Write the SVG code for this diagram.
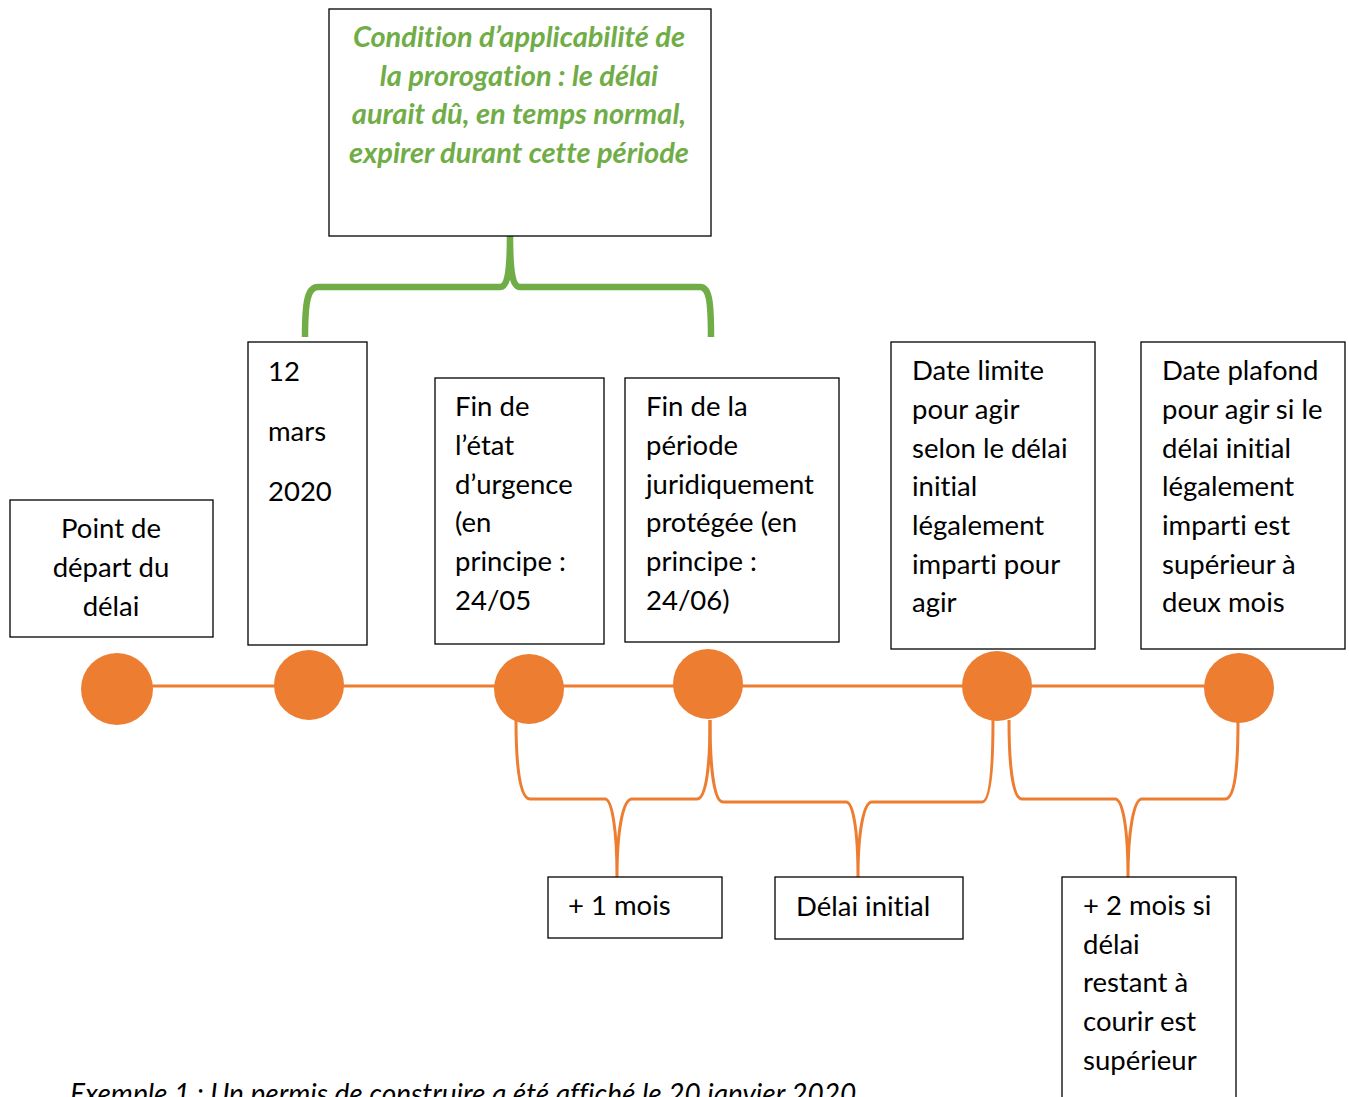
<svg xmlns="http://www.w3.org/2000/svg" width="1349" height="1097" viewBox="0 0 1349 1097">
<style>
text{font-variant-ligatures:none}
.box{fill:#fff;stroke:#000;stroke-width:1.3}
.t{font-family:Lato,"Open Sans","Liberation Sans",sans-serif;font-size:27.5px;fill:#000}
.g{font-family:Lato,"Open Sans","Liberation Sans",sans-serif;font-size:29px;font-weight:bold;font-style:italic;fill:#70AD47}
.dot{fill:#ED7D31}
.ob{fill:none;stroke:#ED7D31;stroke-width:3}
.gb{fill:none;stroke:#70AD47;stroke-width:6.5}
</style>
<rect width="1349" height="1097" fill="#fff"/>
<g id="connectors">
<line class="ob" x1="117" y1="686" x2="1240" y2="686"/>
<path class="ob" d="M516,720 C516,760 519,799 530,799 L605,799 C612,799 617,830 617,877 M710,720 C710,760 707,799 697,799 L632,799 C623,799 617,830 617,877"/>
<path class="ob" d="M710,720 C710,760 713,802 723,802 L846,802 C853,802 858,830 858,877 M993,720 C993,760 991,802 982,802 L872,802 C864,802 858,830 858,877"/>
<path class="ob" d="M1009,720 C1009,760 1012,799 1022,799 L1115,799 C1123,799 1128,830 1128,877 M1238,720 C1238,760 1236,799 1225,799 L1142,799 C1134,799 1128,830 1128,877"/>
<path class="gb" d="M510,236 C510,270 508,287 500,287 L318,287 C308,287 305,300 305,337 M510,236 C510,270 512,287 520,287 L700,287 C709,287 711,300 711,337"/>
</g>
<g id="condition">
<rect class="box" x="329" y="9" width="382" height="227"/>
<text class="g" text-anchor="middle"><tspan x="519" y="47">Condition d’applicabilité de</tspan><tspan x="519" y="86">la prorogation : le délai</tspan><tspan x="519" y="124">aurait dû, en temps normal,</tspan><tspan x="519" y="163">expirer durant cette période</tspan></text>
</g>
<g id="depart">
<rect class="box" x="10" y="500" width="203" height="137"/>
<text class="t" text-anchor="middle"><tspan x="111" y="538">Point de</tspan><tspan x="111" y="577">départ du</tspan><tspan x="111" y="616">délai</tspan></text>
</g>
<g id="mars">
<rect class="box" x="248" y="342" width="119" height="303"/>
<text class="t"><tspan x="268" y="381">12</tspan><tspan x="268" y="441">mars</tspan><tspan x="268" y="501">2020</tspan></text>
</g>
<g id="urgence">
<rect class="box" x="435" y="378" width="169" height="266"/>
<text class="t"><tspan x="455" y="416">Fin de</tspan><tspan x="455" y="455">l’état</tspan><tspan x="455" y="494">d’urgence</tspan><tspan x="455" y="532">(en</tspan><tspan x="455" y="571">principe :</tspan><tspan x="455" y="610">24/05</tspan></text>
</g>
<g id="periode">
<rect class="box" x="625" y="378" width="214" height="264"/>
<text class="t"><tspan x="646" y="416">Fin de la</tspan><tspan x="646" y="455">période</tspan><tspan x="646" y="494">juridiquement</tspan><tspan x="646" y="532">protégée (en</tspan><tspan x="646" y="571">principe :</tspan><tspan x="646" y="610">24/06)</tspan></text>
</g>
<g id="limite">
<rect class="box" x="891" y="342" width="204" height="307"/>
<text class="t"><tspan x="912" y="380">Date limite</tspan><tspan x="912" y="419">pour agir</tspan><tspan x="912" y="458">selon le délai</tspan><tspan x="912" y="496">initial</tspan><tspan x="912" y="535">légalement</tspan><tspan x="912" y="574">imparti pour</tspan><tspan x="912" y="612">agir</tspan></text>
</g>
<g id="plafond">
<rect class="box" x="1141" y="342" width="204" height="307"/>
<text class="t"><tspan x="1162" y="380">Date plafond</tspan><tspan x="1162" y="419">pour agir si le</tspan><tspan x="1162" y="458">délai initial</tspan><tspan x="1162" y="496">légalement</tspan><tspan x="1162" y="535">imparti est</tspan><tspan x="1162" y="574">supérieur à</tspan><tspan x="1162" y="612">deux mois</tspan></text>
</g>
<g id="dots">
<circle class="dot" cx="117" cy="689" r="36"/>
<circle class="dot" cx="309" cy="685" r="35"/>
<circle class="dot" cx="529" cy="689" r="35"/>
<circle class="dot" cx="708" cy="684" r="35"/>
<circle class="dot" cx="997" cy="686" r="35"/>
<circle class="dot" cx="1239" cy="688" r="35"/>
</g>
<g id="unmois">
<rect class="box" x="548" y="877" width="174" height="61"/>
<text class="t" x="568" y="915">+ 1 mois</text>
</g>
<g id="initial">
<rect class="box" x="775" y="877" width="188" height="62"/>
<text class="t" x="796" y="916">Délai initial</text>
</g>
<g id="deuxmois">
<rect class="box" x="1062" y="877" width="174" height="230"/>
<text class="t"><tspan x="1083" y="915">+ 2 mois si</tspan><tspan x="1083" y="954">délai</tspan><tspan x="1083" y="992">restant à</tspan><tspan x="1083" y="1031">courir est</tspan><tspan x="1083" y="1070">supérieur</tspan></text>
</g>
<text id="exemple" x="70" y="1104" style="font-family:Lato,'Open Sans','Liberation Sans',sans-serif;font-size:28px;font-style:italic;fill:#000">Exemple 1 : Un permis de construire a été affiché le 20 janvier 2020</text>
</svg>
